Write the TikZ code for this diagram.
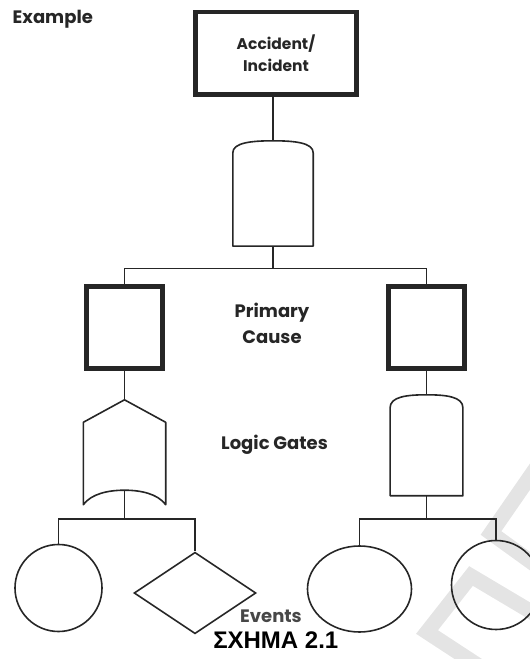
\documentclass[tikz,border=0pt]{standalone}
\usepackage{fontspec}
\setsansfont{Poppins}
\newfontfamily\capfont{Liberation Sans}
\usetikzlibrary{positioning,calc,shapes.geometric}
\definecolor{ink}{HTML}{262626}
\definecolor{wmgray}{HTML}{E4E4E4}

\begin{document}
\begin{tikzpicture}[x=1pt,y=1pt,
  topbox/.style={draw=ink,line width=4.5pt,inner sep=0pt,
    minimum width=161pt,minimum height=82.5pt},
  cause/.style={draw=ink,line width=4.5pt,inner sep=0pt,
    minimum width=76pt,minimum height=82pt},
  gatebox/.style={inner sep=0pt},
  gate/.style={draw=ink,line width=1.6pt,line join=round},
  event/.style={draw=ink,line width=1.6pt,inner sep=0pt},
  link/.style={draw=ink,line width=1.6pt},
  txt/.style={font=\sffamily\bfseries\fontsize{18}{26}\selectfont,
    text=ink,align=center,inner sep=0pt}
]
\useasboundingbox (0,0) rectangle (530,659);
\clip (0,0) rectangle (530,659);

% faint stamp in the lower right corner
\draw[wmgray,line width=15pt] (545,204) -- (491,126) -- (545,87);
\draw[wmgray,line width=15pt] (482,-9) -- (427,27) -- (471,83) -- (545,39);

\node[txt,anchor=base west] (title) at (12.5,635.7) {Example};

% top event
\node[topbox,txt,font=\sffamily\bfseries\fontsize{15.5}{22}\selectfont] (acc) at (276,605.5) {Accident/\\Incident};

% AND gate under the top event
\node[gatebox,minimum width=80pt,minimum height=105pt] (and1) at (273,465.5) {};
\draw[gate] (and1.south west) -- ([yshift=-12pt]and1.north west)
  .. controls ([yshift=-2pt]and1.north west) and ([xshift=-22pt]and1.north) .. (and1.north)
  .. controls ([xshift=22pt]and1.north) and ([yshift=-2pt]and1.north east) .. ([yshift=-12pt]and1.north east)
  -- (and1.south east) -- cycle;

% primary causes
\node[cause] (pc1) at (124.5,331.5) {};
\node[cause] (pc2) at (426.5,331.5) {};
\node[txt] (causetxt) at (272,336) {Primary\\Cause};

% OR gate (left) and AND gate (right)
\node[gatebox,minimum width=82pt,minimum height=104.5pt] (or1) at (124.5,206.75) {};
\draw[gate] (or1.north) -- ([yshift=-22.5pt]or1.north east) -- (or1.south east)
  .. controls ([xshift=-8pt,yshift=11pt]or1.south east) and ([xshift=16pt,yshift=14.5pt]or1.south) .. ([yshift=14.5pt]or1.south) coordinate (or1in)
  .. controls ([xshift=-16pt,yshift=14.5pt]or1.south) and ([xshift=8pt,yshift=11pt]or1.south west) .. (or1.south west)
  -- ([yshift=-22.5pt]or1.north west) -- cycle;

\node[gatebox,minimum width=72.4pt,minimum height=100.6pt] (and2) at (426.5,213.7) {};
\draw[gate] (and2.south west) -- ([yshift=-13pt]and2.north west)
  .. controls ([yshift=-2pt]and2.north west) and ([xshift=-20pt]and2.north) .. (and2.north)
  .. controls ([xshift=20pt]and2.north) and ([yshift=-2pt]and2.north east) .. ([yshift=-13pt]and2.north east)
  -- (and2.south east) -- cycle;

\node[txt,anchor=base] (gatetxt) at (274.5,209.7) {Logic Gates};

% basic events
\node[event,circle,minimum size=87pt] (ev1) at (58.5,71) {};
\node[event,diamond,minimum width=122pt,minimum height=81.5pt] (ev2) at (195,66) {};
\node[event,ellipse,minimum width=104pt,minimum height=86pt] (ev3) at (359.5,70) {};
\node[event,circle,minimum size=89pt] (ev4) at (496,74) {};

\node[txt,anchor=base,text=ink!85,text depth=0pt] (evtxt) at (271,36) {Events};
\node[font=\capfont\bfseries\fontsize{24}{24}\selectfont,anchor=base,inner sep=0pt,
  text height=17pt,text depth=0pt] (caption)
  at (275.8,10.5) {ΣΧΗΜΑ 2.1};

% branch points
\coordinate (fork1) at (273,390.5);
\coordinate (fork2) at (124.5,140);
\coordinate (fork3) at (426.5,140);

% connectors
\draw[link] (acc.south -| and1.north) -- (and1.north);
\draw[link] (and1.south) -- (fork1);
\draw[link] (pc1.north) -- (pc1.north |- fork1) -- (pc2.north |- fork1) -- (pc2.north);
\draw[link] (pc1.south) -- (or1.north);
\draw[link] (pc2.south) -- (and2.north);
\draw[link] (or1in) -- (fork2);
\draw[link] (ev1.north) -- (ev1.north |- fork2) -- (ev2.north |- fork2) -- (ev2.north);
\draw[link] (and2.south) -- (fork3);
\draw[link] (ev3.north) -- (ev3.north |- fork3) -- (ev4.north |- fork3) -- (ev4.north);
\end{tikzpicture}
\end{document}
